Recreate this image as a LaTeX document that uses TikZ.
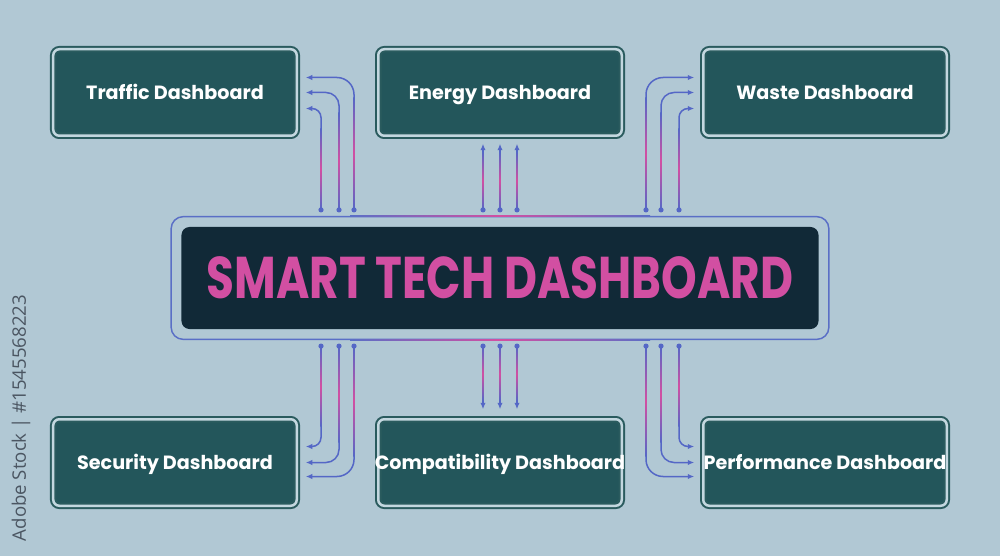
\documentclass[tikz,border=0pt]{standalone}
\usepackage{fontspec}
\setmainfont{Poppins}
\newfontfamily\titelschrift[FakeStretch=0.77]{Poppins}
\newfontfamily\randschrift{Open Sans}
\usetikzlibrary{arrows.meta,calc,fit}

\definecolor{hintergrund}{HTML}{B1C8D4}
\definecolor{kastenrand}{HTML}{2A5B5E}
\definecolor{kastenfuell}{HTML}{23565B}
\definecolor{luecke}{HTML}{C3D7DF}
\definecolor{zentrumfuell}{HTML}{112937}
\definecolor{rahmenblau}{HTML}{5A6FC6}
\definecolor{linienblau}{HTML}{5467C6}
\definecolor{rosa}{HTML}{D24FA2}
\definecolor{wasserzeichen}{HTML}{4B5662}

\begin{document}
\begin{tikzpicture}[
    x=0.2mm, y=0.2mm,
    kasten/.style={
      rounded corners=1.2mm,
      draw=kastenrand,
      line width=0.4mm,
      double=luecke,
      double distance=0.5mm,
      fill=kastenfuell,
      inner ysep=0pt,
      inner xsep=-1mm,
      minimum width=48.7mm,
      minimum height=17.3mm,
      text height=7.6pt,
      text depth=0pt,
      text=white,
      font=\bfseries\fontsize{10.9}{12}\selectfont},
    zentrum/.style={
      rounded corners=1.6mm,
      fill=zentrumfuell,
      minimum width=127.4mm,
      minimum height=20.4mm,
      text height=23.4pt,
      text depth=0pt,
      text=rosa,
      font=\titelschrift\bfseries\fontsize{33.5}{36}\selectfont},
    rahmenlinie/.style={
      rounded corners=2.4mm,
      draw=rahmenblau,
      line width=0.3mm,
      inner sep=2mm},
    leitung/.style={
      draw=linienblau,
      line width=0.3mm,
      -{Latex[length=1.3mm,width=1.1mm]}},
    punkt/.style={fill=linienblau},
    glanz/.style={
      top color=linienblau, bottom color=linienblau, middle color=rosa},
    querglanz/.style={
      left color=rahmenblau, right color=rahmenblau, middle color=rosa}
    ]

  \fill[hintergrund] (0,0) rectangle (1000,556);

  \node at (175,463.5) (verkehr) [kasten] {Traffic Dashboard};
  \node at (500,463.5) (energie) [kasten] {Energy Dashboard};
  \node at (825,463.5) (abfall) [kasten] {Waste Dashboard};
  \node at (500,278) (zentrale) [zentrum] {SMART TECH DASHBOARD};
  \node at (175,93.5) (sicherheit) [kasten] {Security Dashboard};
  \node at (500,93.5) (kompat) [kasten] {Compatibility Dashboard};
  \node at (825,93.5) (leistung) [kasten] {Performance Dashboard};
  \node (rahmen) [rahmenlinie, fit=(zentrale)] {};
  \shade[querglanz] ($(rahmen.north)+(-150,-0.75)$) rectangle ($(rahmen.north)+(150,0.75)$);
  \shade[querglanz] ($(rahmen.south)+(-150,-0.75)$) rectangle ($(rahmen.south)+(150,0.75)$);

  \node at (21,138) (kennung) [rotate=90, text=wasserzeichen,
    font=\randschrift\fontsize{10.6}{12}\selectfont] {Adobe Stock | \#1545568223};

  % links oben und rechts oben
  \foreach \dx/\dy/\r in {146/15/3.4, 161/0/2.6, 179/-16/1.8} {
    \draw[leitung, rounded corners=\r mm] ($(rahmen.north)+(-\dx,6)$) coordinate (a) |- ($(verkehr.east)+(8,\dy)$) coordinate (b);
    \shade[glanz] ($(a)+(-0.75,0)$) rectangle ($(a |- b)+(0.75,-20)$);
    \fill[punkt] (a) circle[radius=2.6];
    \draw[leitung, rounded corners=\r mm] ($(rahmen.north)+(\dx,6)$) coordinate (a) |- ($(abfall.west)+(-8,\dy)$) coordinate (b);
    \shade[glanz] ($(a)+(-0.75,0)$) rectangle ($(a |- b)+(0.75,-20)$);
    \fill[punkt] (a) circle[radius=2.6];
  }

  % links unten und rechts unten
  \foreach \dx/\dy/\r in {179/16/1.8, 161/0/2.6, 146/-14/3.4} {
    \draw[leitung, rounded corners=\r mm] ($(rahmen.south)+(-\dx,-6)$) coordinate (a) |- ($(sicherheit.east)+(8,\dy)$) coordinate (b);
    \shade[glanz] ($(a)+(-0.75,0)$) rectangle ($(a |- b)+(0.75,20)$);
    \fill[punkt] (a) circle[radius=2.6];
    \draw[leitung, rounded corners=\r mm] ($(rahmen.south)+(\dx,-6)$) coordinate (a) |- ($(leistung.west)+(-8,\dy)$) coordinate (b);
    \shade[glanz] ($(a)+(-0.75,0)$) rectangle ($(a |- b)+(0.75,20)$);
    \fill[punkt] (a) circle[radius=2.6];
  }

  % mitte
  \foreach \dx in {-17, 0, 17} {
    \draw[leitung] ($(rahmen.north)+(\dx,6)$) coordinate (a) -- ($(energie.south)+(\dx,-7)$) coordinate (b);
    \shade[glanz] ($(a)+(-0.75,0)$) rectangle ($(b)+(0.75,-8)$);
    \fill[punkt] (a) circle[radius=2.6];
    \draw[leitung] ($(rahmen.south)+(\dx,-6)$) coordinate (a) -- ($(kompat.north)+(\dx,9)$) coordinate (b);
    \shade[glanz] ($(a)+(-0.75,0)$) rectangle ($(b)+(0.75,8)$);
    \fill[punkt] (a) circle[radius=2.6];
  }

\end{tikzpicture}
\end{document}
